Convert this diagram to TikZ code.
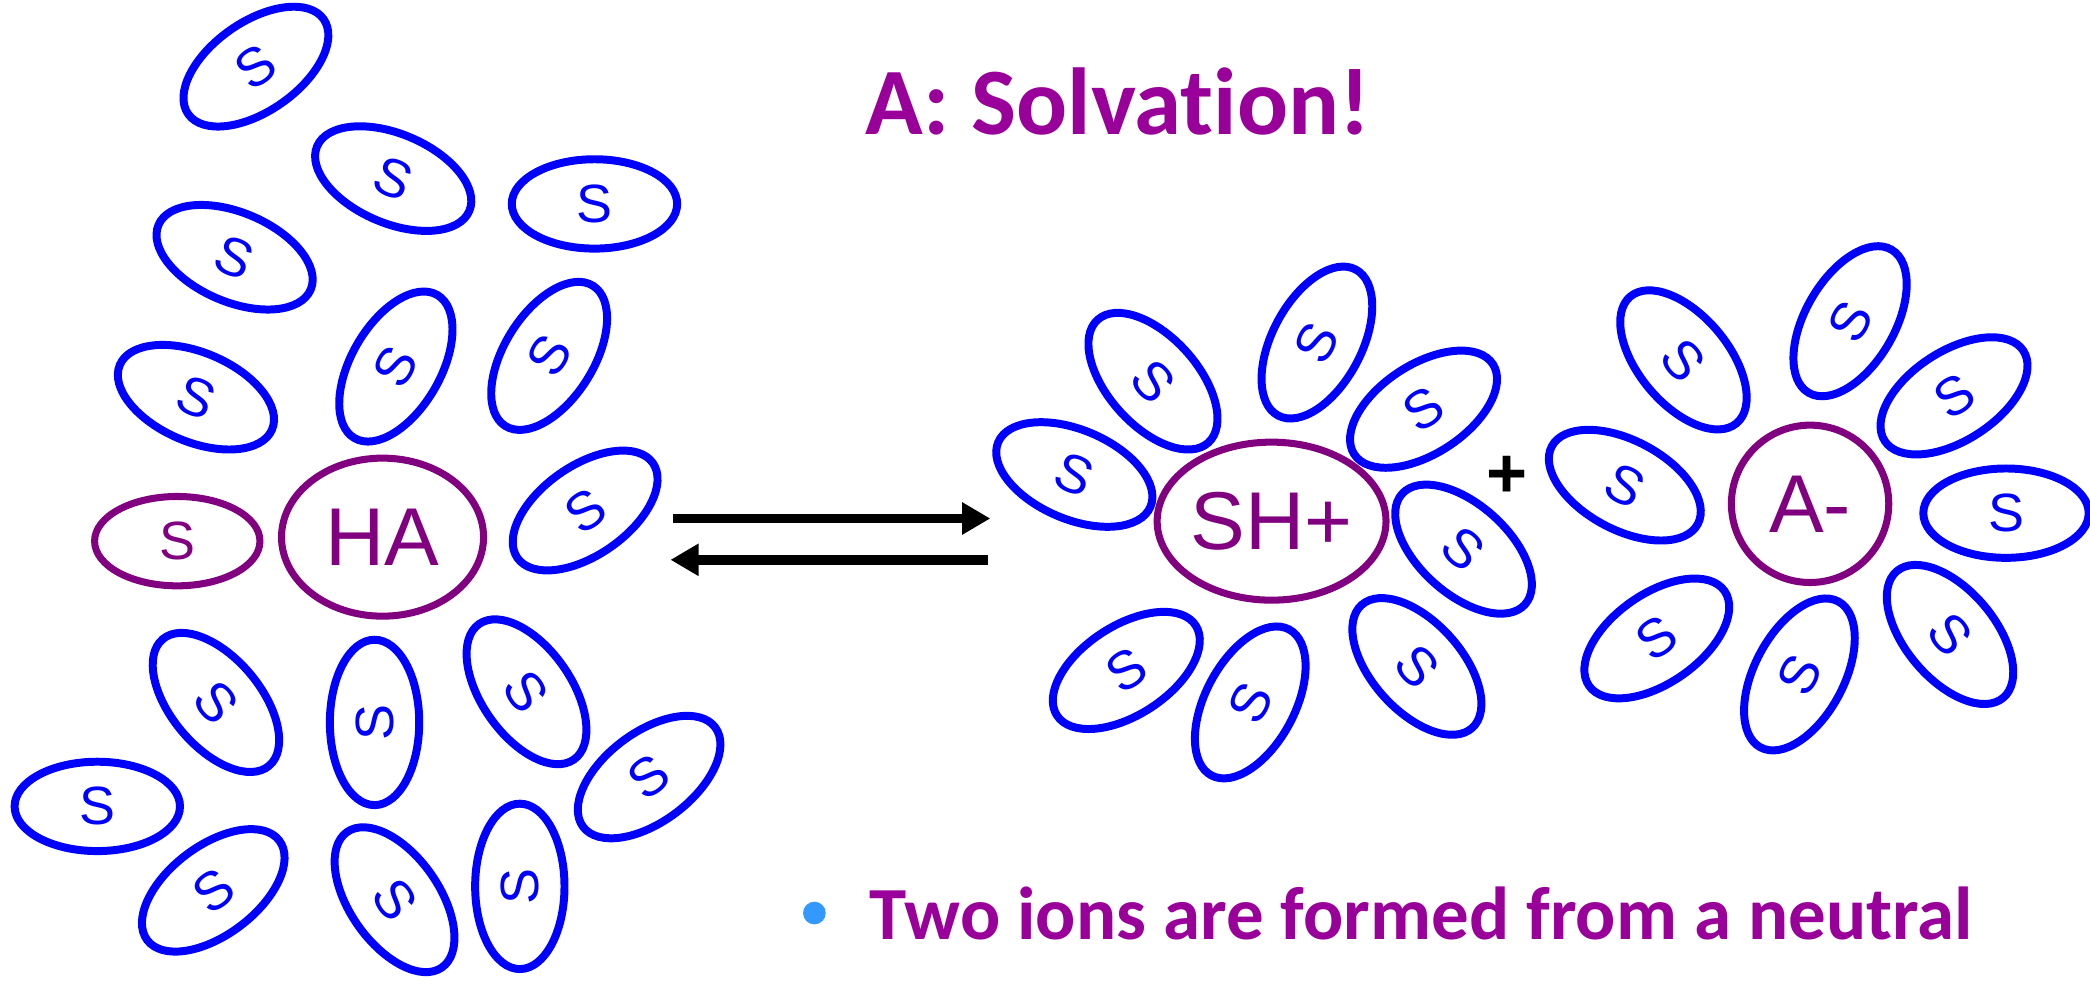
\documentclass[tikz,border=0pt]{standalone}
\usepackage{fontspec}
\setmainfont{Liberation Sans}
\newfontfamily\arialf{Liberation Sans}
\newfontfamily\calibf[Ligatures=NoCommon]{Carlito}
\usetikzlibrary{shapes.geometric,arrows.meta}
\definecolor{sblue}{HTML}{0000FF}
\definecolor{ionpurple}{HTML}{800080}
\definecolor{titlepurple}{HTML}{990099}
\definecolor{bulletblue}{HTML}{3399FF}
\tikzset{
  solv/.style={ellipse, draw=sblue, line width=1.7pt, minimum width=1.24cm,
    minimum height=0.67cm, inner sep=0pt, text=sblue,
    font=\arialf\fontsize{11.5}{12}\selectfont},
  psolv/.style={solv, draw=ionpurple, text=ionpurple, line width=1.5pt},
  ion/.style={ellipse, draw=ionpurple, line width=1.5pt, minimum width=1.515cm,
    minimum height=1.185cm, inner sep=0pt, text=ionpurple,
    font=\arialf\fontsize{17.5}{18}\selectfont},
  ionround/.style={circle, draw=ionpurple, line width=1.5pt, minimum size=1.18cm,
    inner sep=0pt, text=ionpurple, font=\arialf\fontsize{17.5}{18}\selectfont},
  eqarrow/.style={line width=2pt, -{Triangle[length=6pt,width=6.5pt]}},
}
\begin{document}
\begin{tikzpicture}[x=0.01cm,y=-0.01cm]
\useasboundingbox (0,0) rectangle (1568,746);
% left cluster
\node[solv,rotate=35]  (t1) at (192,50) {S};
\node[solv,rotate=-23] (t2) at (295,134) {S};
\node[solv]            (t3) at (446,153) {S};
\node[solv,rotate=-23] (t4) at (176,193) {S};
\node[solv,rotate=60]  (t5) at (297,275) {S};
\node[solv,rotate=58]  (t6) at (412,267) {S};
\node[solv,rotate=-23] (t7) at (147,298) {S};
\node[solv,rotate=35]  (t8) at (439,383) {S};
\node[psolv]           (ps) at (133,406) {S};
\node[ion]             (ha) at (287,403) {HA};
\node[solv,rotate=-50] (b1) at (162,527) {S};
\node[solv,rotate=90]  (b2) at (281,542) {S};
\node[solv,rotate=-55] (b3) at (395,519) {S};
\node[solv,rotate=37]  (b4) at (487,583) {S};
\node[solv]            (b5) at (73,605) {S};
\node[solv,rotate=37]  (b6) at (160,668) {S};
\node[solv,rotate=-55] (b7) at (296,675) {S};
\node[solv,rotate=90]  (b8) at (390,665) {S};
% SH+ cluster
\node[solv,rotate=-23] (r1) at (806,356) {S};
\node[solv,rotate=-48] (r2) at (865,286) {S};
\node[solv,rotate=62]  (r3) at (988,257) {S};
\node[solv,rotate=33]  (r4) at (1068,307) {S};
\node[solv,rotate=-42] (r5) at (1098,412) {S};
\node[solv,rotate=-48] (r6) at (1063,500) {S};
\node[solv,rotate=62]  (r7) at (938,527) {S};
\node[solv,rotate=33]  (r8) at (845,503) {S};
\node[ion]             (shp) at (954,391) {SH+};
% A- cluster
\node[solv,rotate=-28] (l1) at (1219,364) {S};
\node[solv,rotate=-50] (l2) at (1263,270) {S};
\node[solv,rotate=60]  (l3) at (1388,241) {S};
\node[solv,rotate=33]  (l4) at (1466,297) {S};
\node[solv]            (l5) at (1505,385) {S};
\node[solv,rotate=-50] (l6) at (1463,476) {S};
\node[solv,rotate=62]  (l7) at (1350,506) {S};
\node[solv,rotate=35]  (l8) at (1243,479) {S};
\node[ionround]        (am) at (1358,378) {A-};
% plus sign
\node[font=\arialf\bfseries\fontsize{15}{16}\selectfont, inner sep=0pt] (plus) at (1131,358) {+};
% equilibrium arrows
\coordinate (f1) at (505,389);
\coordinate (f2) at (743,389);
\coordinate (g1) at (741,420);
\coordinate (g2) at (503,420);
\draw[eqarrow] (f1) -- (f2);
\draw[eqarrow] (g1) -- (g2);
% title
\node[anchor=base west, inner sep=0pt, text=titlepurple,
  font=\calibf\bfseries\fontsize{20.3}{22}\selectfont] (title) at (649,101) {A: Solvation!};
% bullet line
\fill[bulletblue] (611,685) circle (8.5);
\node[anchor=base west, inner sep=0pt, text=titlepurple,
  font=\calibf\bfseries\fontsize{16}{18}\selectfont] (note) at (652,705) {Two ions are formed from a neutral};
\end{tikzpicture}
\end{document}
